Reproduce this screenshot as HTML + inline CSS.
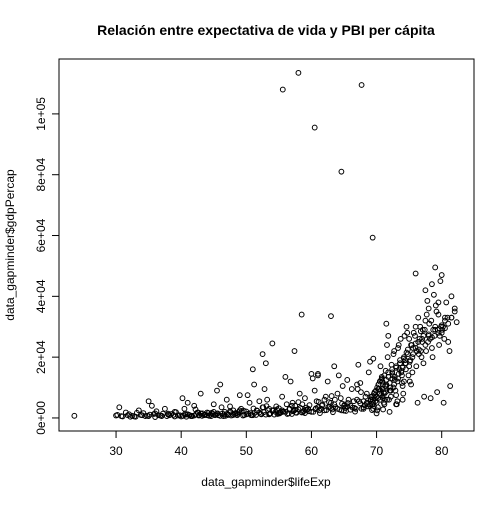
<!DOCTYPE html>
<html><head><meta charset="utf-8"><style>
body{margin:0;background:#fff}
svg text{font-family:"Liberation Sans",sans-serif;fill:#000}
</style></head><body>
<svg id="c" width="504" height="504" xmlns="http://www.w3.org/2000/svg">
<text x="266" y="35" text-anchor="middle" font-size="14" font-weight="bold">Relación entre expectativa de vida y PBI per cápita</text>
<rect x="59" y="59" width="415" height="372" fill="none" stroke="#000"/>
<text x="266" y="486" text-anchor="middle" font-size="12">data_gapminder$lifeExp</text>
<text transform="translate(14,245) rotate(-90)" text-anchor="middle" font-size="12">data_gapminder$gdpPercap</text>
<g id="ax"></g>
<g id="pts" fill="none" stroke="#000" stroke-width="1"></g>
</svg>
<script>
const xTicks=[30,40,50,60,70,80];
const yTicks=[0,20000,40000,60000,80000,100000];
const yTickLabels=["0e+00","2e+04","4e+04","6e+04","8e+04","1e+05"];
const lifeExp=[23.6,55.6,58,60.5,64.6,67.7,69.4,58.5,63,57.4,54,52.5,60,61,71.5,76,79,77.5,81.5,78.5,80,79.5,78,80.5,82,
30,31,32,33,34,35,36,37,38,39,30.5,31.5,32.5,33.5,34.5,35.5,36.5,37.5,38.5,39.5,30.2,32.2,34.2,36.2,38.2,35,37,39,36,38,
40,41,42,43,44,45,46,47,48,49,40.5,41.5,42.5,43.5,44.5,45.5,46.5,47.5,48.5,49.5,40.2,41.2,42.2,43.2,44.2,45.2,46.2,47.2,48.2,49.2,40.8,42.8,44.8,46.8,48.8,41,43,45,47,49,44,46,48,42,45.5,47.5,
50,51,52,53,54,55,56,57,58,59,50.5,51.5,52.5,53.5,54.5,55.5,56.5,57.5,58.5,59.5,50.2,51.2,52.2,53.2,54.2,55.2,56.2,57.2,58.2,59.2,50.8,52.8,54.8,56.8,58.8,51,53,55,57,59,52,54,56,58,50,53.5,55.5,57.5,
60,61,62,63,64,65,66,67,68,69,60.5,61.5,62.5,63.5,64.5,65.5,66.5,67.5,68.5,69.5,60.2,61.2,62.2,63.2,64.2,65.2,66.2,67.2,68.2,69.2,60.8,62.8,64.8,66.8,68.8,61,63,65,67,69,62,64,66,68,63.5,65.5,67.5,69.5,
70,70.5,71,71.5,72,72.5,73,73.5,74,74.5,70.2,70.7,71.2,71.7,72.2,72.7,73.2,73.7,74.2,74.7,70.4,70.9,71.4,71.9,72.4,72.9,73.4,73.9,74.4,74.9,70.1,70.6,71.1,71.6,72.1,72.6,73.1,73.6,74.1,74.6,70.3,70.8,71.3,71.8,72.3,72.8,73.3,73.8,74.3,69.8,69.5,70,71,72,73,74,
75,75.5,76,76.5,77,77.5,78,78.5,79,79.5,80,80.5,81,81.5,82,75.2,75.7,76.2,76.7,77.2,77.7,78.2,78.7,79.2,79.7,80.2,80.7,81.2,75.4,75.9,76.4,76.9,77.4,77.9,78.4,78.9,79.4,79.9,80.4,80.9,75.1,75.6,76.1,76.6,77.1,77.6,78.1,78.6,79.1,79.6,80.1,75.3,76.3,77.3,78.3,79.3,80.3,81.3,82.3,76.8,77.8,78.8,79.8,
30.8,31.8,32.8,33.8,34.8,35.8,36.8,37.8,38.8,39.8,33.2,35.2,37.2,39.2,
40.3,40.7,41.3,41.7,42.3,42.7,43.3,43.7,44.3,44.7,45.3,45.7,46.3,46.7,47.3,47.7,48.3,48.7,49.3,49.7,40.6,41.6,42.6,43.6,44.6,45.6,46.6,47.6,48.6,49.6,
50.3,50.7,51.3,51.7,52.3,52.7,53.3,53.7,54.3,54.7,55.3,55.7,56.3,56.7,57.3,57.7,58.3,58.7,59.3,59.7,50.6,51.6,52.6,53.6,54.6,55.6,56.6,57.6,58.6,59.6,51.1,53.1,55.1,57.1,59.1,
60.3,60.7,61.3,61.7,62.3,62.7,63.3,63.7,64.3,64.7,65.3,65.7,66.3,66.7,67.3,67.7,68.3,68.7,69.3,69.7,60.6,61.6,62.6,63.6,64.6,65.6,66.6,67.6,68.6,69.6,61.1,63.1,65.1,67.1,69.1,
68,68.5,69,69.2,69.4,69.6,69.8,69.9,70,70.1,70.2,70.3,70.4,70.5,70.6,70.7,70.8,70.9,71,71.1,71.2,71.3,71.4,71.5,71.6,71.8,72,72.2,72.4,72.6,72.8,73,73.2,73.4,73.6,73.8,74,74.2,74.4,74.6,74.8,75,75.3,75.6,76,76.4,76.8,77.2,
69.1,69.4,69.7,70,70.3,70.6,70.9,71.2,71.5,71.8,72.1,72.4,72.7,73,73.3,73.6,73.9,74.2,74.5,74.8,75.1,75.5,76,76.5,77,77.5,78,78.5,79,79.5,80,80.5,81,81.5];
const gdpPercap=[700,108000,113500,95500,81000,109500,59300,34000,33500,22000,24500,21000,14500,14500,31000,47500,49500,42000,40000,44000,47000,38000,36000,33000,35000,
800,500,1200,400,900,600,1500,700,1100,500,3500,1800,700,2500,600,4000,900,3000,1300,800,1000,400,1600,2200,900,5500,600,2000,300,1400,
500,1200,800,1500,900,2000,700,1300,1000,2500,3000,600,1800,900,1100,1400,600,2200,1500,800,6500,1000,2800,700,1600,900,3500,1000,1200,3000,400,1000,1300,700,1900,5000,8000,4500,6000,7500,1800,11000,2500,4000,9000,3800,
1200,900,1800,1100,2400,1500,2000,1300,2800,1600,5000,1000,3500,1200,2000,2500,1500,4000,1800,3000,7500,11000,1400,6000,2600,1700,4500,2200,8000,3400,900,9500,1300,12000,2300,16000,18000,3200,4000,6500,5500,2500,13500,5200,2100,3000,7000,2700,
2000,3500,2500,5000,3000,4000,2700,6000,3500,4500,9000,3000,12000,4500,6500,3800,5500,11500,8000,5000,13000,2500,7000,2800,14000,3300,9500,17500,4200,6800,5500,3600,10500,3000,15000,14000,3200,2400,11000,18500,6000,8000,4000,5500,17000,12500,4800,19500,
5000,8000,6500,11000,9000,14000,7500,16000,10500,18000,3500,12500,4500,20000,7000,22000,5500,26000,12000,28000,9500,7000,15500,6000,13000,9000,24000,11500,19000,14000,2500,17000,8500,24000,10000,21000,4500,18000,8000,30000,11000,13500,6000,27000,17500,12500,23000,15000,27000,7500,3000,1500,2800,2000,4500,6000,
26000,15000,30000,21000,25000,32000,27000,23000,30000,34000,28000,32000,25000,33000,36000,19000,28000,22000,30000,18000,34000,26000,29000,35000,27000,30000,38000,22000,24000,27000,33000,20000,29000,25000,32000,27000,29000,30000,26000,33000,12000,23000,17000,26000,29000,22000,31000,20000,37000,24000,29000,11000,5000,7000,6500,8500,5000,10500,31500,28500,38500,40500,45000,
600,900,500,1000,700,1300,800,600,1000,900,1700,1100,1400,1900,
700,1100,900,600,1300,800,1500,1000,700,1700,1200,900,1400,2000,1100,800,1600,1300,2200,1000,1400,700,1800,1100,600,1500,1200,1900,900,2400,
1400,1000,1700,2300,1200,1900,2600,1500,1100,2800,1800,2100,1300,3000,2400,1700,3300,1900,2600,4200,1600,2500,3500,1300,3800,2000,2900,1800,4500,2200,3100,3900,1500,5000,2700,
2000,3200,1600,4300,2600,5200,1900,3600,2800,4700,2300,6000,3400,2100,5500,3000,7000,3800,2600,6500,2900,4100,3600,6000,2500,4900,3300,8500,4600,3900,5300,7200,4400,9500,6200,
3000,5000,4000,7000,6000,8000,5500,9000,7000,10000,6500,11000,8000,12000,9000,7500,13000,9500,11000,5000,14000,10500,8500,12500,6000,15000,11500,9000,16000,10000,13500,17000,12000,14500,19000,15500,16500,20000,18000,21500,22500,17000,24000,21000,23000,25000,22000,27000,
6000,4500,8500,7000,9500,6000,12000,8000,10500,13500,9000,15000,11000,16500,13000,18000,14000,19500,16000,21000,18500,20000,24500,22500,26000,24000,27500,26500,29000,28000,30500,29500,31000,33000];
const X0=59,X1=474,Y0=431,Y1=59,xmin=21.24,xmax=84.96,ymin=-4290,ymax=118054;
const xs=v=>X0+(v-xmin)/(xmax-xmin)*(X1-X0);
const ys=v=>Y0-(v-ymin)/(ymax-ymin)*(Y0-Y1);
const NS="http://www.w3.org/2000/svg";
const ax=document.getElementById('ax'),pts=document.getElementById('pts');
function mk(t,a,p){const e=document.createElementNS(NS,t);for(const k in a)e.setAttribute(k,a[k]);p.appendChild(e);return e;}
mk('line',{x1:xs(xTicks[0]),x2:xs(xTicks[xTicks.length-1]),y1:431,y2:431,stroke:'#000'},ax);
xTicks.forEach(v=>{const x=xs(v);
const l=mk('line',{x1:x,x2:x,y1:431,y2:438,stroke:'#000'},ax);


const t=mk('text',{x:x,y:455,'text-anchor':'middle','font-size':12},ax);t.textContent=v;

});
mk('line',{x1:59,x2:59,y1:ys(yTicks[0]),y2:ys(yTicks[yTicks.length-1]),stroke:'#000'},ax);
yTicks.forEach((v,i)=>{const y=ys(v);
const l=mk('line',{x1:52,x2:59,y1:y,y2:y,stroke:'#000'},ax);


const t=mk('text',{transform:`translate(45,${y}) rotate(-90)`,'text-anchor':'middle','font-size':12},ax);t.textContent=yTickLabels[i];

});
lifeExp.forEach((v,i)=>{const c=mk('circle',{cx:xs(v),cy:ys(gdpPercap[i]),r:2.4},pts);

});
</script>
</body></html>
